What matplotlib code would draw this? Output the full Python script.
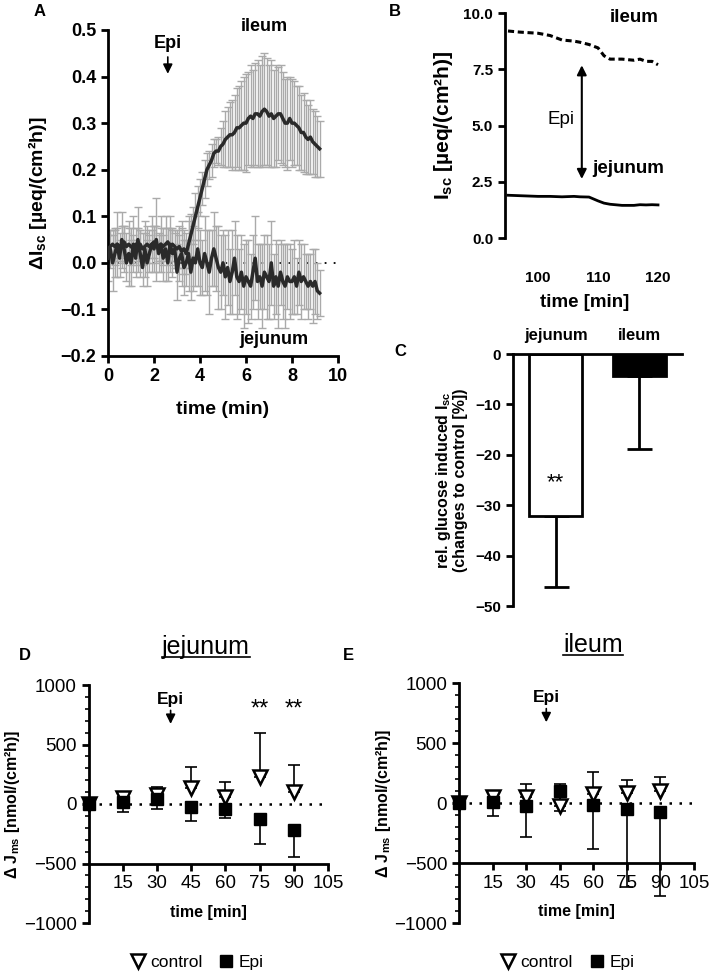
import numpy as np
import matplotlib
matplotlib.use("Agg")
import matplotlib.pyplot as plt
from matplotlib.lines import Line2D

plt.rcParams['font.family'] = ['Liberation Sans', 'DejaVu Sans']
plt.rcParams['mathtext.fontset'] = 'custom'
plt.rcParams['mathtext.rm'] = 'Liberation Sans'
plt.rcParams['mathtext.bf'] = 'Liberation Sans:bold'
plt.rcParams['mathtext.default'] = 'bf'

# ---- panel A: delta Isc time course (0.1 min steps, 0 .. 9.2 min)
a_time = np.round(np.arange(0, 93) * 0.1, 1)
a_ileum = [0.03, 0.035, 0.04, 0.035, 0.04, 0.035, 0.04, 0.045, 0.035, 0.04,
           0.035, 0.03, 0.04, 0.035, 0.04, 0.03, 0.035, 0.04, 0.035, 0.04,
           0.045, 0.04, 0.035, 0.04, 0.035, 0.04, 0.045, 0.035, 0.04, 0.035,
           0.03, 0.035, 0.025, 0.03, 0.02, 0.04, 0.06, 0.08, 0.10, 0.12,
           0.14, 0.16, 0.18, 0.20, 0.21, 0.22, 0.235, 0.24, 0.24, 0.25,
           0.255, 0.265, 0.27, 0.275, 0.275, 0.28, 0.29, 0.29, 0.295, 0.30,
           0.30, 0.31, 0.315, 0.31, 0.32, 0.32, 0.315, 0.325, 0.33, 0.325,
           0.315, 0.32, 0.31, 0.315, 0.32, 0.32, 0.31, 0.30, 0.30, 0.31,
           0.30, 0.30, 0.295, 0.29, 0.28, 0.28, 0.27, 0.265, 0.27, 0.26,
           0.255, 0.25, 0.245]
a_ileum_err = [0.03, 0.035, 0.03, 0.04, 0.035, 0.03, 0.04, 0.035, 0.03, 0.035,
               0.04, 0.03, 0.035, 0.04, 0.03, 0.035, 0.03, 0.04, 0.035, 0.03,
               0.035, 0.04, 0.03, 0.035, 0.04, 0.035, 0.03, 0.04, 0.035, 0.03,
               0.04, 0.045, 0.05, 0.04, 0.045, 0.05, 0.045, 0.04, 0.05, 0.045,
               0.04, 0.035, 0.04, 0.035, 0.03, 0.035, 0.03, 0.025, 0.03, 0.04,
               0.05, 0.06, 0.065, 0.07, 0.075, 0.08, 0.085, 0.09, 0.095, 0.10,
               0.105, 0.10, 0.11, 0.105, 0.11, 0.115, 0.11, 0.12, 0.12, 0.115,
               0.11, 0.115, 0.105, 0.11, 0.10, 0.105, 0.10, 0.095, 0.10, 0.09,
               0.095, 0.09, 0.085, 0.09, 0.08, 0.085, 0.08, 0.075, 0.08, 0.07,
               0.07, 0.065, 0.06]
a_jejunum = [0.01, 0.03, 0.0, 0.02, 0.04, 0.01, 0.05, 0.03, 0.0, 0.02,
             0.0, 0.04, 0.01, 0.05, 0.02, -0.01, 0.03, 0.0, 0.02, 0.04,
             0.03, 0.05, 0.02, 0.04, 0.01, 0.03, 0.0, 0.04, 0.02, 0.03,
             -0.02, 0.01, 0.02, -0.01, 0.0, 0.02, -0.02, 0.01, 0.0, 0.03,
             0.0, -0.01, 0.02, 0.0, -0.02, 0.01, 0.03, 0.01, -0.01, -0.02,
             0.0, -0.03, -0.01, -0.04, -0.02, 0.01, -0.03, -0.04, -0.02, -0.05,
             -0.03, -0.04, -0.05, -0.02, 0.01, -0.04, -0.03, -0.05, -0.02, -0.03,
             -0.04, 0.0, -0.05, -0.03, -0.05, -0.02, -0.04, -0.05, -0.03, -0.04,
             -0.04, -0.03, -0.05, -0.02, -0.04, -0.03, -0.04, -0.05, -0.04, -0.05,
             -0.04, -0.06, -0.065]
a_jejunum_err = [0.05, 0.04, 0.06, 0.05, 0.07, 0.04, 0.06, 0.05, 0.04, 0.07,
                 0.05, 0.06, 0.04, 0.07, 0.05, 0.04, 0.06, 0.05, 0.04, 0.06,
                 0.05, 0.09, 0.04, 0.06, 0.05, 0.07, 0.04, 0.06, 0.05, 0.04,
                 0.06, 0.05, 0.07, 0.06, 0.05, 0.08, 0.06, 0.07, 0.05, 0.08,
                 0.07, 0.06, 0.08, 0.07, 0.09, 0.06, 0.08, 0.07, 0.09, 0.08,
                 0.07, 0.09, 0.08, 0.07, 0.09, 0.08, 0.09, 0.07, 0.08, 0.09,
                 0.08, 0.09, 0.07, 0.08, 0.09, 0.08, 0.07, 0.09, 0.08, 0.09,
                 0.08, 0.09, 0.07, 0.08, 0.09, 0.07, 0.08, 0.09, 0.07, 0.08,
                 0.07, 0.08, 0.06, 0.07, 0.08, 0.07, 0.06, 0.07, 0.06, 0.08,
                 0.07, 0.06, 0.05]

# ---- panel B: Isc of one tissue pair
b_time = [95, 97, 100, 102, 104, 106, 107, 108.5, 110, 111, 112, 114, 116, 117, 118, 119, 120]
b_ileum = [9.2, 9.15, 9.1, 9.0, 8.8, 8.75, 8.7, 8.6, 8.45, 8.1, 7.95, 7.95, 7.9, 7.95, 7.85, 7.85, 7.7]
b_jejunum = [1.9, 1.88, 1.85, 1.85, 1.83, 1.85, 1.83, 1.82, 1.65, 1.55, 1.5, 1.45, 1.45, 1.48, 1.47, 1.48, 1.47]

# ---- panel C: rel. glucose induced Isc
c_labels = ['jejunum', 'ileum']
c_values = [-32.1, -4.3]
c_err = [14.1, 14.5]

# ---- panels D / E: delta Jms
de_time = [0, 15, 30, 45, 60, 75, 90]
d_control = [0, 50, 75, 137, 59, 230, 104]
d_control_err = [0, 45, 70, 175, 126, 365, 223]
d_epi = [0, 20, 40, -28, -45, -126, -218]
d_epi_err = [0, 85, 85, 112, 70, 213, 225]
e_control = [0, 52, 47, -25, 75, 86, 102]
e_control_err = [0, 34, 108, 180, 185, 106, 112]
e_epi = [0, 5, -25, 102, -17, -50, -72]
e_epi_err = [0, 110, 261, 166, 369, 650, 700]

W, H = 709, 973
fig = plt.figure(figsize=(W / 100, H / 100), dpi=100)


def box(left, top, right, bottom):
    return [left / W, 1 - bottom / H, (right - left) / W, (bottom - top) / H]


def style_axes(ax, lw=2):
    for s in ['top', 'right']:
        ax.spines[s].set_visible(False)
    for s in ['left', 'bottom']:
        ax.spines[s].set_linewidth(lw)
    ax.tick_params(width=lw, length=5, direction='out')


# ================= A
axA = fig.add_axes(box(108, 30, 338, 356))
style_axes(axA)
axA.errorbar(a_time, a_jejunum, yerr=a_jejunum_err, fmt='none', ecolor='#aaaaaa',
             elinewidth=1, capsize=3, capthick=1, zorder=2)
axA.errorbar(a_time, a_ileum, yerr=a_ileum_err, fmt='none', ecolor='#aaaaaa',
             elinewidth=1, capsize=3, capthick=1, zorder=2)
axA.plot(a_time, a_jejunum, color='#2a2a2a', lw=2.5, zorder=3)
axA.plot(a_time, a_ileum, color='#2a2a2a', lw=2.5, zorder=3)
axA.plot([0, 10], [0, 0], ls=(0, (1, 4)), color='black', lw=1.3, zorder=1)
axA.set_xlim(0, 10)
axA.set_ylim(-0.2, 0.5)
axA.set_xticks([0, 2, 4, 6, 8, 10])
axA.set_yticks([-0.2, -0.1, 0.0, 0.1, 0.2, 0.3, 0.4, 0.5])
axA.set_yticklabels(['\u22120.2', '\u22120.1', '0.0', '0.1', '0.2', '0.3', '0.4', '0.5'])
axA.tick_params(labelsize=13)
for t in axA.get_xticklabels() + axA.get_yticklabels():
    t.set_fontweight('bold')
axA.set_xlabel('time (min)', fontsize=14, fontweight='bold', labelpad=12)
axA.set_ylabel(r'$\Delta$I$_{sc}$ [µeq/(cm²h)]', fontsize=14, fontweight='bold', labelpad=8)
axA.text(6.8, 0.508, 'ileum', ha='center', va='center', fontsize=13, fontweight='bold')
axA.text(7.2, -0.165, 'jejunum', ha='center', va='center', fontsize=13, fontweight='bold')
axA.text(2.6, 0.472, 'Epi', ha='center', va='center', fontsize=13, fontweight='bold')
axA.annotate('', xy=(2.6, 0.4), xytext=(2.6, 0.448),
             arrowprops=dict(arrowstyle='-|>', color='black', lw=1.2, mutation_scale=14))
fig.text(40 / W, 1 - 12 / H, 'A', fontsize=12, fontweight='bold', ha='center', va='center')

# ================= B
axB = fig.add_axes(box(505, 13, 664, 238))
style_axes(axB)
axB.spines['bottom'].set_visible(False)
axB.plot(b_time, b_ileum, color='black', lw=2.2, ls=(0, (2, 1.2)))
axB.plot(b_time, b_jejunum, color='black', lw=2)
axB.set_xlim(94.5, 121)
axB.set_ylim(0, 10)
axB.set_xticks([100, 110, 120])
axB.set_yticks([0, 2.5, 5, 7.5, 10])
axB.set_yticklabels(['0.0', '2.5', '5.0', '7.5', '10.0'])
axB.tick_params(axis='x', length=0, pad=24)
axB.tick_params(labelsize=11)
for t in axB.get_xticklabels() + axB.get_yticklabels():
    t.set_fontweight('bold')
axB.set_xlabel('time [min]', fontsize=13.5, fontweight='bold', labelpad=6)
axB.set_ylabel(r'I$_{sc}$ [µeq/(cm²h)]', fontsize=15, fontweight='bold', labelpad=6)
axB.annotate('', xy=(107.3, 2.5), xytext=(107.3, 7.8),
             arrowprops=dict(arrowstyle='<|-|>', color='black', lw=1.5, mutation_scale=14))
axB.text(103.8, 5.25, 'Epi', ha='center', va='center', fontsize=13.5)
axB.text(116, 9.8, 'ileum', ha='center', va='center', fontsize=13.5, fontweight='bold')
axB.text(115, 3.1, 'jejunum', ha='center', va='center', fontsize=13.5, fontweight='bold')
fig.text(395 / W, 1 - 12 / H, 'B', fontsize=12, fontweight='bold', ha='center', va='center')

# ================= C
axC = fig.add_axes(box(513, 354, 682, 606))
for s in ['bottom', 'right']:
    axC.spines[s].set_visible(False)
for s in ['left', 'top']:
    axC.spines[s].set_linewidth(2)
xc = np.arange(len(c_labels))
axC.bar(xc, c_values, width=0.63, color=['white', 'black'], edgecolor='black', linewidth=2,
        zorder=2)
axC.errorbar(xc, c_values, yerr=[c_err, [0, 0]], fmt='none', ecolor='black', elinewidth=2,
             capsize=9, capthick=2, zorder=1)
axC.set_xlim(-0.506, 1.506)
axC.set_ylim(-50, 0)
axC.xaxis.tick_top()
axC.set_xticks(xc)
axC.set_xticklabels(c_labels, fontsize=12, fontweight='bold')
axC.tick_params(axis='x', length=0, pad=8)
axC.set_yticks([-50, -40, -30, -20, -10, 0])
axC.set_yticklabels(['\u221250', '\u221240', '\u221230', '\u221220', '\u221210', '0'])
axC.tick_params(axis='y', width=2, length=5, labelsize=11)
for t in axC.get_yticklabels():
    t.set_fontweight('bold')
axC.set_ylabel('rel. glucose induced I$_{sc}$\n(changes to control [%])', fontsize=11.5,
               fontweight='bold', labelpad=5, linespacing=1.0)
axC.text(0, -25.5, '**', ha='center', va='center', fontsize=16)
fig.text(400 / W, 1 - 352 / H, 'C', fontsize=12, fontweight='bold', ha='center', va='center')


# ================= D / E
def flux_panel(ax, control, control_err, epi, epi_err, title, title_x, epi_x, leg_x):
    for s in ['top', 'right']:
        ax.spines[s].set_visible(False)
    ax.spines['left'].set_linewidth(2)
    ax.spines['bottom'].set_linewidth(2)
    ax.spines['bottom'].set_position(('data', -500))
    zeros = [0] * len(de_time)
    ax.errorbar(de_time, control, yerr=[zeros, control_err], fmt='none', ecolor='black',
                elinewidth=1.2, capsize=4, capthick=1.2, zorder=2)
    ax.errorbar(de_time, epi, yerr=[epi_err, zeros], fmt='none', ecolor='black',
                elinewidth=1.2, capsize=4, capthick=1.2, zorder=2)
    ax.plot([0, 105], [0, 0], ls=(0, (1, 3)), color='black', lw=1.8, zorder=1)
    ax.plot(de_time, control, 'v', ms=10, mfc='white', mec='black', mew=1.8, ls='none',
            zorder=3, label='control', clip_on=False)
    ax.plot(de_time, epi, 's', ms=8, color='black', ls='none', zorder=4, label='Epi',
            clip_on=False)
    ax.set_xlim(0, 105)
    ax.set_ylim(-1000, 1000)
    ax.set_xticks([15, 30, 45, 60, 75, 90, 105])
    ax.set_yticks([-1000, -500, 0, 500, 1000])
    ax.set_yticklabels(['\u22121000', '\u2212500', '0', '500', '1000'])
    ax.set_yticks(np.arange(-1000, 1001, 100), minor=True)
    ax.tick_params(axis='both', which='major', width=2, length=5, labelsize=13.5)
    ax.tick_params(axis='y', which='minor', width=1.2, length=3)
    ax.set_xlabel('time [min]', fontsize=11.5, fontweight='bold', labelpad=9)
    ax.set_ylabel(r'$\Delta$ J$_{ms}$ [nmol/(cm²h)]', fontsize=11.5, fontweight='bold',
                  labelpad=1)
    ax.text(epi_x, 880, 'Epi', ha='center', va='center', fontsize=12.5, fontweight='bold')
    ax.annotate('', xy=(epi_x, 650), xytext=(epi_x, 810),
                arrowprops=dict(arrowstyle='-|>', color='black', lw=1.2, mutation_scale=14))
    ttl = ax.text(title_x, 1.16, title, transform=ax.transAxes, ha='center', va='center',
                  fontsize=18)
    ax.legend(loc='center', bbox_to_anchor=(leg_x, -0.165), ncol=2, frameon=False,
              fontsize=12.5, handletextpad=0.2, columnspacing=0.9, handlelength=1.0)
    return ttl


axD = fig.add_axes(box(88.5, 685, 328, 923))
tD = flux_panel(axD, d_control, d_control_err, d_epi, d_epi_err, 'jejunum', 0.49, 36, 0.45)
for xx in [75, 90]:
    axD.text(xx, 790, '**', ha='center', va='center', fontsize=17)
fig.text(25 / W, 1 - 655 / H, 'D', fontsize=12, fontweight='bold', ha='center', va='center')

axE = fig.add_axes(box(459, 683, 694, 923))
tE = flux_panel(axE, e_control, e_control_err, e_epi, e_epi_err, 'ileum', 0.57, 39, 0.46)
fig.text(348 / W, 1 - 655 / H, 'E', fontsize=12, fontweight='bold', ha='center', va='center')

# underline the two titles
fig.canvas.draw()
inv = fig.transFigure.inverted()
for t in [tD, tE]:
    bb = t.get_window_extent().transformed(inv)
    fig.add_artist(Line2D([bb.x0, bb.x1], [bb.y0 + 0.002, bb.y0 + 0.002], color='black',
                          lw=1.2, transform=fig.transFigure))

fig.savefig('out.png', dpi=100)
